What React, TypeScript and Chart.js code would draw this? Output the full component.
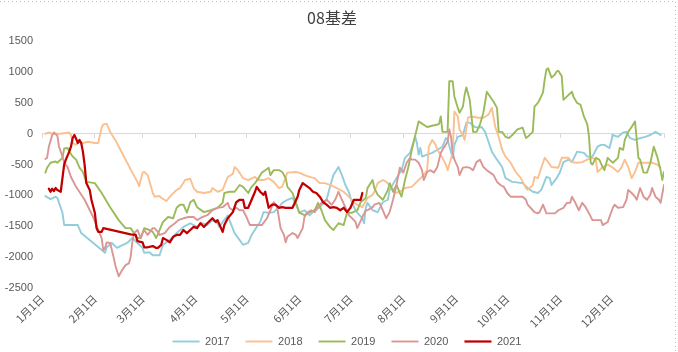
import React, { useEffect, useRef } from "react";
import { Chart, registerables } from "chart.js";

Chart.register(...registerables);

// Month start days (day of year) and their labels
const monthStarts = [0, 31, 59, 90, 120, 151, 181, 212, 243, 273, 304, 334, 365];
const monthLabels = ["1月1日", "2月1日", "3月1日", "4月1日", "5月1日", "6月1日", "7月1日", "8月1日", "9月1日", "10月1日", "11月1日", "12月1日", ""];

const seriesNames = ["2017", "2018", "2019", "2020", "2021"];
const seriesColors = ["#92CDDC", "#FAC090", "#9BBB59", "#D99694", "#C00000"];

const days2017 = [2,5,8,9,12,13,21,23,37,38,41,44,46,50,53,56,59,60,63,65,69,71,75,79,83,87,91,94,97,100,103,104,109,110,113,118,121,123,126,128,130,133,136,139,141,144,147,149,151,154,157,160,163,167,169,171,174,176,178,180,182,184,185,188,189,190,191,194,197,200,203,204,208,211,213,216,219,220,221,222,223,226,229,232,235,237,238,241,242,244,247,249,251,254,256,258,260,262,264,267,270,272,276,282,285,288,291,293,296,298,299,302,304,306,309,311,314,318,320,323,326,328,330,333,335,338,341,343,345,348,351,354,357,360,363];
const values2017 = [-1010,-1060,-1020,-1040,-1280,-1480,-1480,-1610,-1930,-1840,-1770,-1850,-1820,-1770,-1690,-1770,-1850,-1930,-1920,-1970,-1970,-1800,-1720,-1610,-1510,-1450,-1510,-1450,-1480,-1400,-1450,-1510,-1320,-1400,-1610,-1800,-1770,-1640,-1510,-1430,-1270,-1280,-1270,-1190,-1120,-1070,-1040,-1150,-1280,-1240,-1320,-1240,-1190,-1070,-860,-670,-540,-670,-830,-940,-1120,-1240,-1280,-1370,-1450,-1200,-1120,-1240,-1270,-1110,-1070,-910,-720,-590,-390,-310,-50,-150,-340,-230,-370,-340,-310,-260,-210,-70,-100,-390,-180,-50,-20,180,180,110,100,110,30,-130,-290,-420,-540,-720,-780,-800,-880,-940,-960,-910,-700,-720,-830,-720,-620,-460,-420,-460,-290,-310,-370,-370,-210,-180,-180,-230,-20,-50,20,30,-70,-100,-70,-50,-20,30,-20];

const days2018 = [2,4,6,11,16,17,18,20,22,24,27,31,33,35,36,38,40,43,46,50,53,56,57,59,60,62,65,66,69,70,73,76,79,81,84,87,89,91,95,99,100,103,106,109,112,113,115,118,121,125,127,130,133,136,139,141,143,144,149,151,154,157,160,163,166,169,173,177,180,183,185,188,191,194,195,197,200,202,205,207,210,213,217,221,224,226,227,229,231,232,235,237,238,241,242,244,245,247,248,250,252,256,259,262,264,266,268,270,272,275,278,281,284,285,288,289,291,293,295,297,299,303,305,309,311,314,317,320,323,325,326,329,332,335,338,340,342,344,346,348,350,354,358,361,363];
const values2018 = [0,20,0,0,20,-20,-150,-180,-130,-150,-130,-150,-150,100,150,160,30,-100,-260,-470,-630,-780,-850,-630,-620,-670,-960,-1020,-1010,-1040,-1090,-990,-910,-880,-750,-730,-880,-940,-960,-940,-880,-940,-910,-700,-650,-540,-590,-720,-750,-700,-750,-750,-720,-780,-880,-860,-700,-630,-620,-630,-670,-700,-720,-800,-800,-830,-880,-940,-1020,-1110,-1150,-1190,-1040,-990,-940,-800,-750,-780,-860,-960,-940,-880,-860,-750,-670,-590,-210,-100,-180,-260,-390,-500,-590,-310,360,280,70,-20,-100,260,280,260,260,310,420,110,-50,-260,-370,-470,-620,-720,-880,-910,-830,-700,-720,-550,-390,-460,-540,-550,-390,-390,-460,-470,-460,-420,-390,-420,-620,-540,-500,-550,-620,-550,-420,-540,-720,-620,-470,-470,-470,-500,-550];

const days2019 = [2,3,5,8,9,12,13,15,16,18,20,22,24,26,31,35,40,45,49,52,54,56,58,60,63,65,67,71,74,77,79,81,83,85,87,89,91,95,99,103,106,107,110,113,116,118,121,123,125,127,129,131,133,134,136,139,141,143,144,147,149,151,154,157,160,162,164,166,169,171,174,177,179,182,185,187,190,191,194,195,197,200,201,203,204,206,208,210,211,213,215,217,221,226,232,233,234,235,238,239,241,242,244,245,247,248,249,251,253,255,257,259,261,263,265,267,268,270,272,274,276,279,282,284,285,288,289,291,292,294,295,296,297,299,301,302,303,305,306,309,311,312,314,316,318,320,321,322,323,325,327,329,330,332,333,335,338,339,341,342,344,346,348,349,350,351,353,355,357,359,361,363,364,365];
const values2019 = [-630,-550,-470,-450,-470,-390,-240,-230,-290,-370,-420,-550,-620,-780,-800,-960,-1190,-1400,-1530,-1530,-1610,-1690,-1690,-1530,-1560,-1590,-1690,-1430,-1350,-1370,-1200,-1150,-1150,-1280,-1110,-1070,-1190,-1270,-1240,-1200,-1120,-960,-940,-940,-830,-860,-960,-860,-800,-720,-630,-590,-550,-670,-590,-590,-620,-720,-860,-960,-1110,-1280,-1320,-1270,-1240,-1120,-1240,-1400,-1510,-1560,-1450,-1480,-1280,-1280,-1240,-1110,-1040,-880,-750,-880,-990,-1070,-1020,-910,-800,-940,-830,-960,-1020,-750,-540,-260,200,110,150,160,280,30,30,850,850,600,420,340,440,630,750,550,30,30,150,340,680,600,520,420,30,30,-50,-70,-20,70,100,-70,-50,30,440,500,550,670,880,1040,1060,910,960,1010,1020,930,550,630,680,590,500,470,280,150,-50,-470,-500,-390,-420,-540,-590,-390,-420,-470,-390,-230,-260,-100,30,110,200,-100,-390,-420,-630,-630,-470,-210,-370,-590,-750,-620];

const days2020 = [2,3,4,6,7,9,10,12,13,15,16,17,20,25,30,35,36,37,38,40,42,43,45,47,49,51,52,53,54,56,58,59,60,62,65,66,68,69,72,75,78,80,83,86,89,91,94,97,100,103,106,109,110,112,114,116,118,120,122,125,129,132,134,136,138,140,142,143,144,147,149,150,153,154,156,158,160,162,164,167,170,172,174,176,178,180,182,184,185,188,190,191,194,195,198,200,202,204,206,208,210,212,214,216,217,219,221,223,224,226,228,230,232,234,235,238,239,240,241,242,244,245,247,249,251,253,255,257,259,261,263,265,267,269,271,273,275,282,284,285,288,289,291,292,294,296,301,303,306,308,310,311,313,315,317,319,321,323,328,329,332,333,335,336,338,341,343,344,346,348,349,351,353,355,357,358,360,362,363,365];
const values2020 = [-410,-390,-210,-20,20,-30,-210,-370,-470,-540,-620,-700,-860,-1070,-1350,-1690,-1890,-1850,-1760,-1770,-2000,-2130,-2310,-2210,-2130,-2100,-2000,-1760,-1610,-1560,-1690,-1610,-1560,-1640,-1530,-1530,-1590,-1640,-1610,-1510,-1450,-1400,-1370,-1350,-1350,-1400,-1350,-1320,-1240,-1200,-1190,-1120,-1200,-1240,-1200,-1240,-1240,-1350,-1480,-1480,-1480,-1370,-1240,-1110,-1190,-1530,-1640,-1760,-1670,-1610,-1640,-1690,-1530,-1350,-1270,-1240,-1270,-1190,-1120,-1070,-1150,-1070,-940,-1070,-1190,-1320,-1370,-1430,-1530,-1350,-1240,-1240,-1190,-1150,-1120,-1240,-1370,-1270,-1070,-830,-550,-630,-470,-390,-420,-420,-470,-590,-750,-620,-590,-630,-540,-310,-260,-130,70,-50,-310,-420,-540,-670,-550,-540,-550,-590,-460,-420,-540,-590,-630,-670,-780,-830,-860,-960,-1020,-1020,-1070,-1150,-1240,-1270,-1290,-1270,-1150,-1290,-1290,-1240,-1200,-1120,-1120,-1020,-1120,-1240,-1120,-1190,-1290,-1400,-1400,-1480,-1430,-1350,-1200,-1150,-1200,-1190,-1070,-910,-960,-1020,-1070,-880,-1020,-1070,-990,-880,-1020,-1070,-1120,-830];

const days2021 = [4,5,6,7,8,9,11,13,14,16,17,18,19,20,21,22,23,24,25,26,28,29,31,32,33,35,36,52,55,56,59,60,62,65,67,68,70,71,73,75,77,79,81,83,85,87,89,91,93,95,97,100,102,103,106,107,109,112,114,116,118,119,121,123,125,126,128,130,131,133,135,137,139,141,143,146,147,150,151,153,156,157,159,161,163,165,167,169,171,173,175,177,179,181,183,185,187,188];
const values2021 = [-890,-940,-890,-930,-880,-910,-940,-500,-420,-290,-210,-70,-20,-80,-150,-100,-150,-290,-500,-800,-910,-1070,-1280,-1530,-1590,-1590,-1530,-1630,-1640,-1740,-1760,-1840,-1840,-1820,-1850,-1850,-1800,-1690,-1720,-1760,-1670,-1640,-1640,-1560,-1610,-1560,-1510,-1530,-1450,-1510,-1450,-1370,-1430,-1400,-1590,-1480,-1370,-1270,-1110,-1070,-1070,-1200,-1200,-1070,-940,-860,-940,-990,-940,-1200,-1150,-1150,-1200,-1190,-1200,-1200,-1200,-1020,-910,-800,-860,-880,-940,-960,-1020,-1110,-1150,-1200,-1190,-1200,-1240,-1200,-1270,-1200,-1070,-1070,-1070,-960];

const yTicks = [-2500, -2000, -1500, -1000, -500, 0, 500, 1000, 1500];

const allDays = [days2017, days2018, days2019, days2020, days2021];
const allValues = [values2017, values2018, values2019, values2020, values2021];

const textColor = "#595959";
const cjkFont = "'Noto Sans CJK SC', 'Liberation Sans', sans-serif";
const LEGEND_H = 16;

const setMonthTicks = (axis: any) => {
  axis.ticks = monthStarts.map((v) => ({ value: v }));
};

const frameBorder = {
  id: "frameBorder",
  beforeDraw(chart: any) {
    const { ctx, width } = chart;
    ctx.save();
    ctx.strokeStyle = "#BFBFBF";
    ctx.lineWidth = 1;
    ctx.setLineDash([1, 3]);
    ctx.beginPath();
    ctx.moveTo(0, 1.5);
    ctx.lineTo(width - 2.5, 1.5);
    ctx.lineTo(width - 2.5, chart.height);
    ctx.stroke();
    ctx.restore();
  },
};

// nudges the legend box to where the original places it
const legendNudge = {
  id: "legendNudge",
  afterLayout(chart: any) {
    const l = chart.legend;
    if (!l) return;
    l.left += 15;
    l.right += 15;
    l.top = 320;
    l.bottom = 352;
    l.height = 32;
  },
};

export default function App() {
  const ref = useRef<HTMLCanvasElement | null>(null);

  useEffect(() => {
    if (!ref.current) return;
    const datasets = seriesNames.map((name, i) => ({
      label: name,
      data: allDays[i].map((d, j) => ({ x: d, y: allValues[i][j] })),
      borderColor: seriesColors[i],
      backgroundColor: seriesColors[i],
      borderWidth: i === 4 ? 2.25 : 1.9,
      pointRadius: 0,
      tension: 0,
      borderJoinStyle: "round" as const,
      borderCapStyle: "round" as const,
      order: 4 - i,
    }));

    const chart = new Chart(ref.current, {
      type: "line",
      data: { datasets },
      plugins: [frameBorder, legendNudge],
      options: {
        animation: false,
        responsive: false,
        devicePixelRatio: 1,
        layout: { padding: { left: 0, right: 14, top: 0, bottom: 4 } },
        plugins: {
          title: {
            display: true,
            text: "08基差",
            color: "#404040",
            font: { size: 16, family: cjkFont, weight: "normal" },
            padding: { top: 8, bottom: 14 },
          },
          legend: {
            position: "bottom",
            maxHeight: LEGEND_H,
            labels: {
              usePointStyle: true,
              pointStyle: "line",
              pointStyleWidth: 27,
              boxHeight: 11,
              padding: 16,
              color: textColor,
              font: { size: 11, family: "'Liberation Sans', sans-serif" },
              sort: (a: any, b: any) => a.datasetIndex - b.datasetIndex,
            },
          },
          tooltip: { enabled: false },
        },
        scales: {
          x: {
            type: "linear",
            position: "bottom",
            min: 0,
            max: 365,
            afterBuildTicks: setMonthTicks,
            afterFit: (s: any) => {
              const lh = s.chart.legend ? s.chart.legend.height : LEGEND_H;
              s.height = Math.max(10, 352 - 4 - lh - 288);
            },
            ticks: {
              autoSkip: false,
              minRotation: 45,
              maxRotation: 45,
              color: textColor,
              font: { size: 11, family: cjkFont },
              padding: 4,
              callback: (_v: any, i: number) => monthLabels[i],
            },
            grid: { display: false, drawTicks: false },
            border: { display: false },
          },
          x0: {
            type: "linear",
            axis: "x",
            position: { y: 0 },
            min: 0,
            max: 365,
            afterBuildTicks: setMonthTicks,
            ticks: { display: false },
            grid: { drawOnChartArea: false, drawTicks: true, tickLength: 4, color: "#D9D9D9" },
            border: { display: true, color: "#D9D9D9", width: 1 },
          },
          y: {
            type: "linear",
            min: -2500,
            max: 1500,
            afterBuildTicks: (axis: any) => {
              axis.ticks = yTicks.map((v) => ({ value: v }));
            },
            afterFit: (s: any) => {
              s.width = 42;
            },
            ticks: {
              color: textColor,
              font: { size: 11, family: "'Liberation Sans', sans-serif" },
              padding: 9,
              callback: (v: any) => String(v),
            },
            grid: { display: false, drawTicks: false },
            border: { display: false },
          },
        },
      } as any,
    });
    return () => chart.destroy();
  }, []);

  return (
    <div style={{ position: "absolute", left: 0, top: 0, width: 678, height: 352, background: "#fff" }}>
      <canvas ref={ref} width={678} height={352} style={{ display: "block" }} />
    </div>
  );
}
